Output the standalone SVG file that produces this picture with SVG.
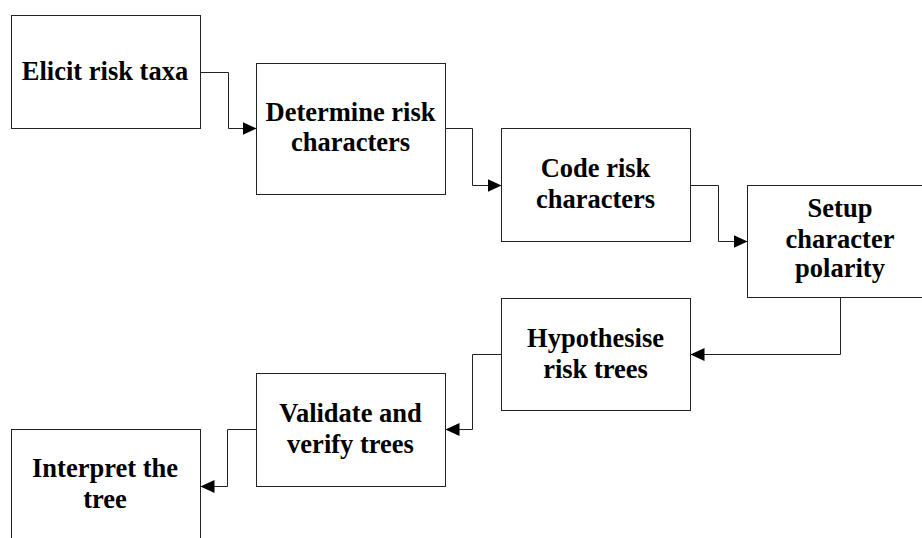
<svg xmlns="http://www.w3.org/2000/svg" width="922" height="538" viewBox="0 0 922 538">
<style>
.box{fill:#fff;stroke:#222;stroke-width:1}
.lbl{font-family:"Liberation Serif","Times New Roman",serif;font-weight:bold;font-size:26.5px;fill:#000;text-anchor:middle}
.conn{fill:none;stroke:#222;stroke-width:1}
</style>
<defs>
<marker id="arr" markerUnits="userSpaceOnUse" markerWidth="14" markerHeight="13" refX="14" refY="6.5" orient="auto">
<path d="M0,0 L14,6.5 L0,13 Z" fill="#000"/>
</marker>
</defs>
<rect width="922" height="538" fill="#fff"/>
<g id="n1"><rect class="box" x="11.5" y="15.5" width="189" height="113"/><text class="lbl" x="105" y="80">Elicit risk taxa</text></g>
<g id="n2"><rect class="box" x="256.5" y="63.5" width="189" height="131"/><text class="lbl" x="350.5" y="121">Determine risk</text><text class="lbl" x="350.5" y="151">characters</text></g>
<g id="n3"><rect class="box" x="501.5" y="128.5" width="189" height="113"/><text class="lbl" x="595.5" y="177">Code risk</text><text class="lbl" x="595.5" y="208">characters</text></g>
<g id="n4"><rect class="box" x="747.5" y="185.5" width="190" height="112"/><text class="lbl" x="840" y="217">Setup</text><text class="lbl" x="840" y="248">character</text><text class="lbl" x="840" y="277">polarity</text></g>
<g id="n5"><rect class="box" x="501.5" y="298.5" width="189" height="112"/><text class="lbl" x="595.5" y="347">Hypothesise</text><text class="lbl" x="595.5" y="378">risk trees</text></g>
<g id="n6"><rect class="box" x="256.5" y="373.5" width="189" height="113"/><text class="lbl" x="350.5" y="422">Validate and</text><text class="lbl" x="350.5" y="453">verify trees</text></g>
<g id="n7"><rect class="box" x="11.5" y="429.5" width="189" height="120"/><text class="lbl" x="105" y="477">Interpret the</text><text class="lbl" x="105" y="508">tree</text></g>
<g id="connectors">
<path class="conn" marker-end="url(#arr)" d="M200.5,72.5 H228.5 V128.5 H256.5"/>
<path class="conn" marker-end="url(#arr)" d="M445.5,128.5 H472.5 V185.5 H501.5"/>
<path class="conn" marker-end="url(#arr)" d="M690.5,185.5 H718.5 V241.5 H747.5"/>
<path class="conn" marker-end="url(#arr)" d="M840.5,297.5 V354.5 H690.5"/>
<path class="conn" marker-end="url(#arr)" d="M501.5,354.5 H472.5 V429.5 H445.5"/>
<path class="conn" marker-end="url(#arr)" d="M256.5,429.5 H227.5 V486.5 H200.5"/>
</g>
</svg>
